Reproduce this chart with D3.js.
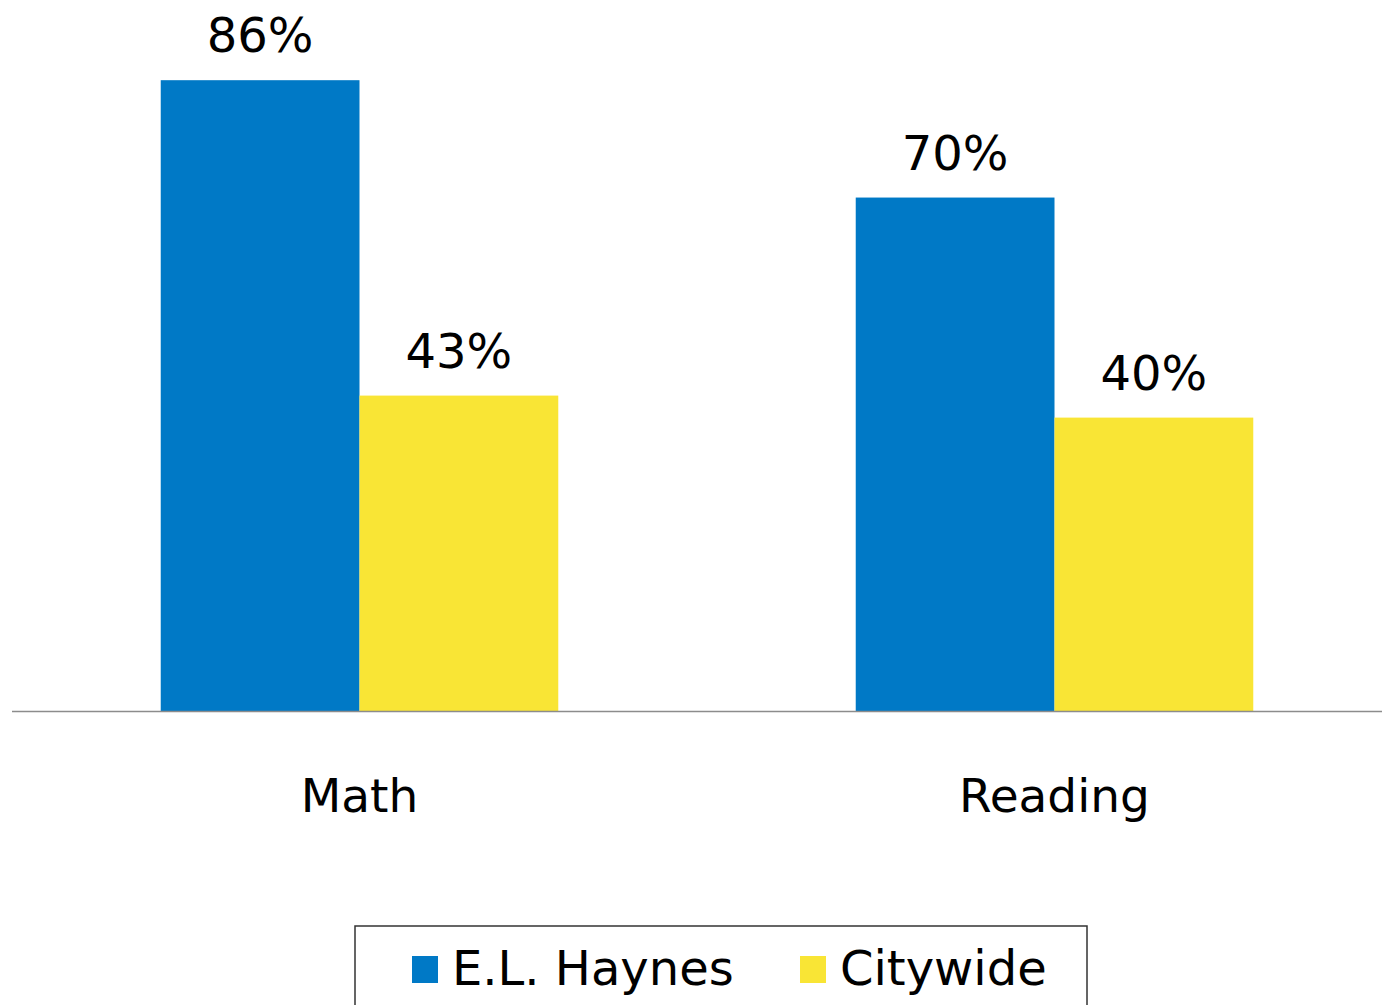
<!DOCTYPE html>
<html><head><meta charset="utf-8">
<script src="https://cdn.jsdelivr.net/npm/d3@7"></script>
<style>html,body{margin:0;padding:0;background:#fff;overflow:hidden}</style>
</head><body>
<svg id="c" width="1382" height="1005"></svg>
<script>
const categories = ["Math", "Reading"];
const seriesNames = ["E.L. Haynes", "Citywide"];
const elHaynes = [86, 70];
const citywide = [43, 40];
const colors = ["#0079C6", "#F9E535"];

const svg = d3.select("#c");
const font = "'DejaVu Sans', sans-serif";
const baseY = 711;
const y = d3.scaleLinear().domain([0, 100]).range([baseY, baseY - 733.5]);
const x0 = d3.scaleBand().domain(categories).range([12, 1402]).paddingInner(0.428).paddingOuter(0.214);
const x1 = d3.scaleBand().domain(seriesNames).range([0, x0.bandwidth()]);

const data = categories.map((c, i) => ({cat: c, vals: [elHaynes[i], citywide[i]]}));

const g = svg.selectAll("g.cat").data(data).join("g")
  .attr("transform", d => `translate(${x0(d.cat)},0)`);
g.selectAll("rect").data(d => d.vals.map((v, j) => ({s: seriesNames[j], v, j}))).join("rect")
  .attr("x", d => x1(d.s)).attr("width", x1.bandwidth())
  .attr("y", d => y(d.v)).attr("height", d => baseY - y(d.v))
  .attr("fill", d => colors[d.j]);
g.selectAll("text").data(d => d.vals.map((v, j) => ({s: seriesNames[j], v, j}))).join("text")
  .attr("x", d => x1(d.s) + x1.bandwidth() / 2)
  .attr("y", d => y(d.v) - 28)
  .attr("text-anchor", "middle")
  .attr("font-family", font).attr("font-size", 48).attr("fill", "#000")
  .text(d => d.v + "%");

// axis
svg.append("line").attr("x1", 12).attr("x2", 1382).attr("y1", baseY + 0.5).attr("y2", baseY + 0.5)
  .attr("stroke", "#8c8c8c").attr("stroke-width", 1.5);
svg.selectAll("text.cat").data(categories).join("text").attr("class", "cat")
  .attr("x", d => x0(d) + x0.bandwidth() / 2).attr("y", 812)
  .attr("text-anchor", "middle").attr("font-family", font).attr("font-size", 47).attr("fill", "#000")
  .text(d => d);

// legend
svg.append("rect").attr("x", 355).attr("y", 926).attr("width", 732).attr("height", 100)
  .attr("fill", "#fff").attr("stroke", "#333").attr("stroke-width", 1.5);
const legX = [412, 800];
seriesNames.forEach((s, i) => {
  svg.append("rect").attr("x", legX[i]).attr("y", 956).attr("width", 26).attr("height", 27).attr("fill", colors[i]);
  svg.append("text").attr("x", legX[i] + 40).attr("y", 985).attr("font-family", font)
    .attr("font-size", 48).attr("fill", "#000").text(s);
});
</script>
</body></html>
